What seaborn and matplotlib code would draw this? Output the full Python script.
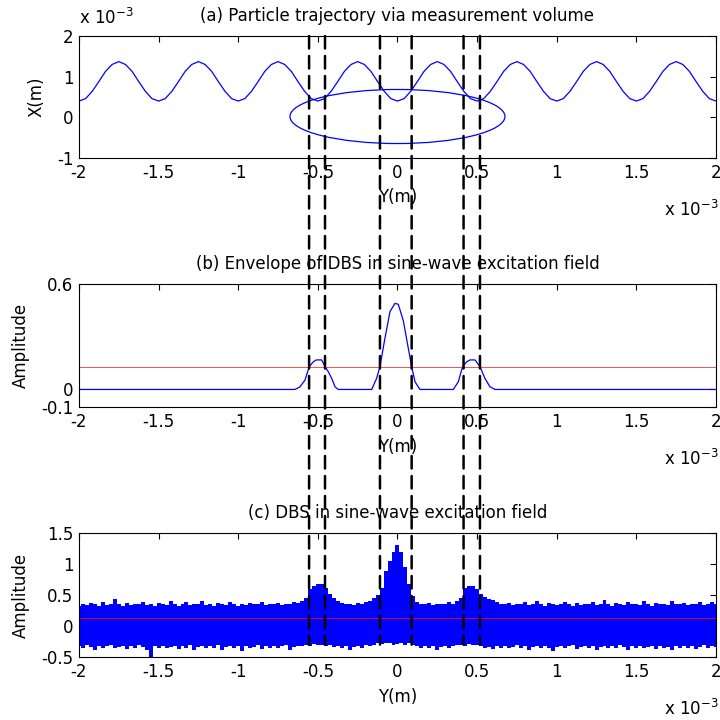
import numpy as np
import matplotlib
matplotlib.use("Agg")
import matplotlib.pyplot as plt
import seaborn as sns
from matplotlib.patches import Ellipse, ConnectionPatch

# ---------------- data (horizontal positions Y in units of 1e-3 m) ----------------
x_ticks = [-2, -1.5, -1, -0.5, 0, 0.5, 1, 1.5, 2]
x_tick_labels = ["-2", "-1.5", "-1", "-0.5", "0", "0.5", "1", "1.5", "2"]

# (a) particle trajectory X (1e-3 m), sampled on a regular grid from -2 to 2
traj_pos = np.linspace(-2, 2, 97)
traj_x = [
    0.40, 0.46, 0.64, 0.88, 1.13, 1.30, 1.37, 1.30, 1.13, 0.88, 0.64, 0.46,
    0.40, 0.46, 0.64, 0.88, 1.13, 1.30, 1.37, 1.30, 1.13, 0.88, 0.64, 0.46,
    0.40, 0.46, 0.64, 0.88, 1.13, 1.30, 1.37, 1.30, 1.13, 0.88, 0.64, 0.46,
    0.40, 0.46, 0.64, 0.88, 1.13, 1.30, 1.37, 1.30, 1.13, 0.88, 0.64, 0.46,
    0.40, 0.46, 0.64, 0.88, 1.13, 1.30, 1.37, 1.30, 1.13, 0.88, 0.64, 0.46,
    0.40, 0.46, 0.64, 0.88, 1.13, 1.30, 1.37, 1.30, 1.13, 0.88, 0.64, 0.46,
    0.40, 0.46, 0.64, 0.88, 1.13, 1.30, 1.37, 1.30, 1.13, 0.88, 0.64, 0.46,
    0.40, 0.46, 0.64, 0.88, 1.13, 1.30, 1.37, 1.30, 1.13, 0.88, 0.64, 0.46,
    0.40,
]
a_yticks = [-1, 0, 1, 2]
a_ytick_labels = ["-1", "0", "1", "2"]

# measurement volume (ellipse)
vol_center = (0.0, 0.02)
vol_half_y = 0.675
vol_half_x = 0.665

# (b) envelope of DBS
env_pos = [-2.0, -0.644, -0.612, -0.581, -0.554, -0.528, -0.51, -0.476, -0.455, -0.434, -0.413, -0.392, -0.372,
           -0.162, -0.131, -0.11, -0.079, -0.047, -0.016, 0.005, 0.037, 0.068, 0.089, 0.11, 0.141,
           0.351, 0.382, 0.409, 0.435, 0.456, 0.487, 0.518, 0.549, 0.581, 0.612, 2.0]
env_amp = [0, 0, 0.015, 0.053, 0.13, 0.158, 0.168, 0.168, 0.13, 0.10, 0.063, 0.015, 0,
           0, 0.063, 0.13, 0.29, 0.443, 0.49, 0.485, 0.39, 0.234, 0.13, 0.044, 0,
           0, 0.044, 0.13, 0.158, 0.168, 0.168, 0.13, 0.063, 0.015, 0, 0]
threshold = 0.13
b_yticks = [-0.1, 0, 0.6]
b_ytick_labels = ["-0.1", "0", "0.6"]

# (c) DBS signal, read as its upper / lower extent every 0.025e-3 m
band_pos = np.linspace(-2, 2, 161)
band_upper = [
    0.33, 0.36, 0.34, 0.37, 0.35, 0.33, 0.38, 0.34,
    0.36, 0.43, 0.35, 0.33, 0.37, 0.34, 0.36, 0.35,
    0.39, 0.34, 0.36, 0.33, 0.37, 0.35, 0.34, 0.41,
    0.35, 0.33, 0.36, 0.38, 0.34, 0.36, 0.35, 0.40,
    0.34, 0.36, 0.33, 0.37, 0.35, 0.34, 0.38, 0.35,
    0.33, 0.36, 0.34, 0.37, 0.35, 0.36, 0.39, 0.34,
    0.36, 0.35, 0.37, 0.34, 0.36, 0.35, 0.38, 0.37,
    0.40, 0.45, 0.60, 0.65, 0.68, 0.67, 0.62, 0.52,
    0.45, 0.40, 0.37, 0.35, 0.36, 0.34, 0.37, 0.36,
    0.38, 0.40, 0.45, 0.50, 0.62, 0.88, 1.05, 1.20,
    1.31, 1.20, 0.95, 0.68, 0.48, 0.38, 0.36, 0.35,
    0.37, 0.34, 0.36, 0.35, 0.36, 0.38, 0.36, 0.40,
    0.45, 0.62, 0.65, 0.64, 0.60, 0.52, 0.46, 0.44,
    0.42, 0.38, 0.36, 0.35, 0.37, 0.34, 0.36, 0.35,
    0.38, 0.34, 0.36, 0.40, 0.35, 0.33, 0.37, 0.35,
    0.34, 0.36, 0.39, 0.35, 0.33, 0.37, 0.34, 0.36,
    0.35, 0.38, 0.34, 0.36, 0.42, 0.35, 0.33, 0.37,
    0.36, 0.34, 0.38, 0.35, 0.36, 0.34, 0.40, 0.35,
    0.33, 0.37, 0.35, 0.36, 0.34, 0.41, 0.35, 0.36,
    0.37, 0.34, 0.36, 0.35, 0.38, 0.34, 0.36, 0.39,
    0.35,
]
band_lower = [
    -0.33, -0.36, -0.31, -0.34, -0.38, -0.32, -0.35, -0.33,
    -0.31, -0.36, -0.34, -0.32, -0.37, -0.33, -0.35, -0.31,
    -0.34, -0.38, -0.50, -0.33, -0.35, -0.32, -0.36, -0.34,
    -0.32, -0.37, -0.33, -0.35, -0.31, -0.39, -0.34, -0.32,
    -0.36, -0.33, -0.35, -0.31, -0.38, -0.34, -0.32, -0.35,
    -0.33, -0.40, -0.32, -0.35, -0.34, -0.31, -0.37, -0.33,
    -0.35, -0.32, -0.36, -0.33, -0.31, -0.38, -0.34, -0.32,
    -0.33, -0.30, -0.32, -0.29, -0.31, -0.30, -0.33, -0.31,
    -0.34, -0.32, -0.35, -0.33, -0.38, -0.34, -0.32, -0.35,
    -0.31, -0.33, -0.30, -0.28, -0.29, -0.27, -0.28, -0.30,
    -0.29, -0.27, -0.30, -0.28, -0.31, -0.33, -0.35, -0.32,
    -0.36, -0.33, -0.38, -0.34, -0.32, -0.36, -0.33, -0.31,
    -0.30, -0.32, -0.29, -0.31, -0.30, -0.33, -0.36, -0.34,
    -0.37, -0.33, -0.35, -0.32, -0.36, -0.34, -0.31, -0.35,
    -0.33, -0.38, -0.34, -0.32, -0.36, -0.33, -0.35, -0.40,
    -0.34, -0.32, -0.36, -0.33, -0.31, -0.37, -0.34, -0.32,
    -0.35, -0.33, -0.38, -0.34, -0.32, -0.36, -0.33, -0.35,
    -0.31, -0.34, -0.39, -0.33, -0.36, -0.32, -0.35, -0.34,
    -0.33, -0.37, -0.32, -0.35, -0.34, -0.38, -0.33, -0.36,
    -0.32, -0.35, -0.33, -0.37, -0.34, -0.31, -0.36, -0.33,
    -0.34,
]
c_yticks = [-0.5, 0, 0.5, 1, 1.5]
c_ytick_labels = ["-0.5", "0", "0.5", "1", "1.5"]

# threshold crossing positions (dashed guide lines)
window_edges = [-0.555, -0.455, -0.11, 0.089, 0.415, 0.518]
guide_bottom = -0.3  # in panel (c) amplitude units

titles = ["(a) Particle trajectory via measurement volume",
          "(b) Envelope of DBS in sine-wave excitation field",
          "(c) DBS in sine-wave excitation field"]

# ---------------- style ----------------
sns.set_style("white", {"axes.edgecolor": "black", "text.color": "black",
                        "axes.labelcolor": "black", "xtick.color": "black",
                        "ytick.color": "black"})
plt.rcParams["font.family"] = ["DejaVu Sans"]
plt.rcParams["mathtext.fontset"] = "dejavusans"

FS = 12
BLUE = "#0000ff"

fig = plt.figure(figsize=(7.2, 7.2), dpi=100)
ax1 = fig.add_axes([0.1097, 0.7806, 0.8847, 0.1694])
ax2 = fig.add_axes([0.1097, 0.4347, 0.8847, 0.1708])
ax3 = fig.add_axes([0.1097, 0.0875, 0.8847, 0.1722])


def style(ax, title, yticks, ylabels, ylim, ylabel):
    ax.set_xlim(-2, 2)
    ax.set_ylim(*ylim)
    ax.set_xticks(x_ticks, x_tick_labels)
    ax.set_yticks(yticks, ylabels)
    ax.tick_params(direction="in", top=True, right=True, length=4, width=0.8,
                   labelsize=FS)
    ax.tick_params(axis="x", pad=4)
    ax.tick_params(axis="y", pad=4)
    for s in ax.spines.values():
        s.set_visible(True)
        s.set_linewidth(0.8)
        s.set_color("black")
    ax.set_title(title, fontsize=FS, pad=11)
    ax.set_xlabel("Y(m)", fontsize=FS, labelpad=5)
    ax.set_ylabel(ylabel, fontsize=FS, labelpad=8)
    ax.annotate("x 10$^{-3}$", xy=(1, 0), xycoords="axes fraction",
                xytext=(2, -42), textcoords="offset points",
                ha="right", va="baseline", fontsize=FS)


# (a)
sns.lineplot(x=traj_pos, y=traj_x, ax=ax1, color=BLUE, lw=0.9,
             estimator=None, sort=False)
ax1.add_patch(Ellipse(vol_center, 2 * vol_half_y, 2 * vol_half_x,
                      fill=False, edgecolor=BLUE, lw=0.9))
style(ax1, titles[0], a_yticks, a_ytick_labels, (-1, 2), "X(m)")
ax1.annotate("x 10$^{-3}$", xy=(0, 1), xycoords="axes fraction",
             xytext=(0, 9), textcoords="offset points",
             ha="left", va="baseline", fontsize=FS)

# (b)
sns.lineplot(x=env_pos, y=env_amp, ax=ax2, color=BLUE, lw=0.9,
             estimator=None, sort=False)
ax2.axhline(threshold, color="#ee5555", lw=0.7)
style(ax2, titles[1], b_yticks, b_ytick_labels, (-0.1, 0.6), "Amplitude")

# (c)
ax3.fill_between(band_pos, band_lower, band_upper, step="mid",
                 color=BLUE, lw=0)
ax3.axhline(threshold, color="#dd0022", lw=0.7)
style(ax3, titles[2], c_yticks, c_ytick_labels, (-0.5, 1.5), "Amplitude")

# dashed guide lines spanning the three panels
for xe in window_edges:
    con = ConnectionPatch(xyA=(xe, 1), coordsA=ax1.get_xaxis_transform(),
                          xyB=(xe, guide_bottom), coordsB=ax3.transData,
                          color="black", lw=1.8, linestyle=(0, (5, 3)),
                          zorder=5)
    fig.add_artist(con)

fig.savefig("out.png", dpi=100)
